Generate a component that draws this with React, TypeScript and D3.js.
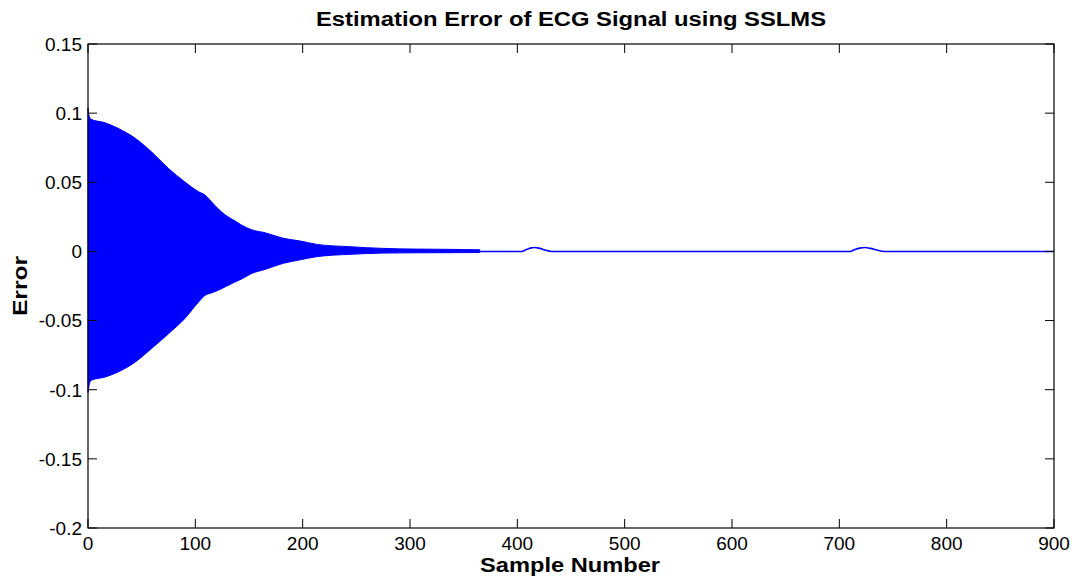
import React from "react";
import * as d3 from "d3";

// Envelope of the rapidly oscillating error signal (samples 0..365)
const envSample = [0, 0.5, 3, 16, 28, 44, 59, 75, 90, 103, 109, 115, 121, 128, 137, 143, 152, 165, 182, 198, 213, 244, 275, 306, 337, 365];
const envUpper = [0.1035, 0.1, 0.0955, 0.093, 0.089, 0.0818, 0.0721, 0.06, 0.0504, 0.0432, 0.0408, 0.036, 0.031, 0.0263, 0.022, 0.0191, 0.0158, 0.0135, 0.0095, 0.0075, 0.0051, 0.0034, 0.0022, 0.0017, 0.0015, 0.0012];
const envLower = [-0.102, -0.099, -0.0932, -0.0908, -0.0872, -0.08, -0.0703, -0.0595, -0.0487, -0.0366, -0.0318, -0.03, -0.0282, -0.0255, -0.0221, -0.02, -0.0161, -0.013, -0.0086, -0.006, -0.0038, -0.0021, -0.0012, -0.001, -0.0009, -0.0008];

// Settled trace after sample 365
const traceSample = [365, 404, 408, 412, 416, 420, 425, 432, 710, 714, 719, 724, 729, 735, 742, 900];
const traceValue = [0, 0, 0.0012, 0.0024, 0.0028, 0.0024, 0.0012, 0, 0, 0.0012, 0.0024, 0.0028, 0.0022, 0.001, 0, 0];

const xTicks = [0, 100, 200, 300, 400, 500, 600, 700, 800, 900];
const yTicks = [0.15, 0.1, 0.05, 0, -0.05, -0.1, -0.15, -0.2];
const yTickLabels = ["0.15", "0.1", "0.05", "0", "-0.05", "-0.1", "-0.15", "-0.2"];

const W = 1074, H = 577;
const L = 88, R = 1054, T = 44, B = 528;

export default function App() {
  const x = d3.scaleLinear().domain([0, 900]).range([L, R]);
  const y = d3.scaleLinear().domain([-0.2, 0.15]).range([B, T]);

  const envData = envSample.map((s, i) => ({ s, u: envUpper[i], l: envLower[i] }));
  const area = d3.area<{ s: number; u: number; l: number }>()
    .x(d => x(d.s)).y0(d => y(d.l)).y1(d => y(d.u)).curve(d3.curveMonotoneX);
  const traceData = traceSample.map((s, i) => [s, traceValue[i]] as [number, number]);
  const line = d3.line<[number, number]>().x(d => x(d[0])).y(d => y(d[1])).curve(d3.curveMonotoneX);

  const font = "Arial, 'Liberation Sans', Helvetica, sans-serif";
  const tl = 9;

  return (
    <svg width={W} height={H} style={{ position: "absolute", left: 0, top: 0, background: "#fff" }} fontFamily={font}>
      <rect x={0} y={0} width={W} height={H} fill="#fff" />
      <path d={area(envData) || ""} fill="#0000ff" stroke="#0000ff" strokeWidth={1} />
      <path d={line(traceData) || ""} fill="none" stroke="#0000ff" strokeWidth={1.6} />
      {xTicks.map(t => (
        <g key={"x" + t}>
          <line x1={x(t)} x2={x(t)} y1={B} y2={B - tl} stroke="#000" />
          <line x1={x(t)} x2={x(t)} y1={T} y2={T + tl} stroke="#000" />
          <text x={x(t)} y={550} fontSize={19} textAnchor="middle">{t}</text>
        </g>
      ))}
      {yTicks.map((t, i) => (
        <g key={"y" + t}>
          <line x1={L} x2={L + tl} y1={y(t)} y2={y(t)} stroke="#000" />
          <line x1={R} x2={R - tl} y1={y(t)} y2={y(t)} stroke="#000" />
          <text x={82} y={y(t)} dy="0.36em" fontSize={19} textAnchor="end">{yTickLabels[i]}</text>
        </g>
      ))}
      <rect x={L} y={T} width={R - L} height={B - T} fill="none" stroke="#000" strokeWidth={1.2} />
      <text x={(L + R) / 2} y={26} fontSize={20} fontWeight="bold" textAnchor="middle" textLength={510} lengthAdjust="spacingAndGlyphs">Estimation Error of ECG Signal using SSLMS</text>
      <text x={570} y={572} fontSize={20} fontWeight="bold" textAnchor="middle" textLength={180} lengthAdjust="spacingAndGlyphs">Sample Number</text>
      <text transform={`translate(27,${(T + B) / 2}) rotate(-90)`} fontSize={20} fontWeight="bold" textAnchor="middle" textLength={60} lengthAdjust="spacingAndGlyphs">Error</text>
    </svg>
  );
}
